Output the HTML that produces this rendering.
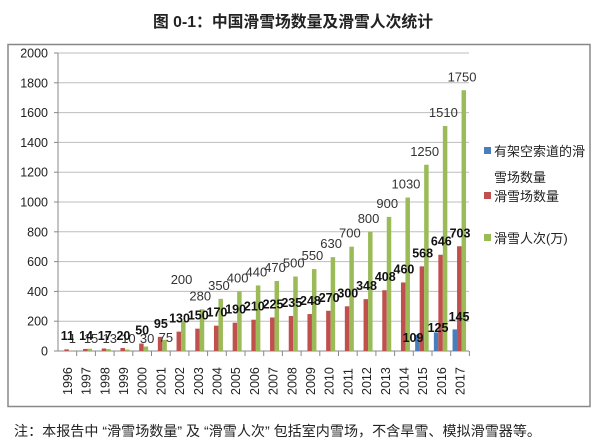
<!DOCTYPE html>
<html><head><meta charset="utf-8"><style>
body{margin:0;background:#fff;}
svg{display:block;font-family:"Liberation Sans","Noto Sans CJK SC",sans-serif;}
</style></head><body>
<svg width="600" height="446" viewBox="0 0 600 446" xmlns="http://www.w3.org/2000/svg">
<text x="153" y="27" font-size="16" font-weight="bold" fill="#222" textLength="280" lengthAdjust="spacingAndGlyphs">图 0-1：中国滑雪场数量及滑雪人次统计</text>
<rect x="8" y="44.5" width="582" height="362" fill="#fff" stroke="#888" stroke-width="1.5"/>
<g id="grid" stroke="#bdbdbd" stroke-width="1"></g>
<g id="bars"></g>
<g id="labels"></g>
<g font-size="13" fill="#222">
<rect x="484" y="147" width="7" height="7" fill="#4a7ebb"/>
<text x="494" y="156">有架空索道的滑</text>
<text x="494" y="182">雪场数量</text>
<rect x="484" y="192" width="7" height="7" fill="#c0504d"/>
<text x="494" y="201">滑雪场数量</text>
<rect x="484" y="234" width="7" height="7" fill="#9bbb59"/>
<text x="494" y="243">滑雪人次(万)</text>
</g>
<text x="14" y="436" font-size="14" fill="#222" textLength="527" lengthAdjust="spacingAndGlyphs">注：本报告中 “滑雪场数量” 及 “滑雪人次” 包括室内雪场，不含旱雪、模拟滑雪器等。</text>
<script>
var ns="http://www.w3.org/2000/svg";
function el(p,t,a,txt){var e=document.createElementNS(ns,t);for(var k in a)e.setAttribute(k,a[k]);if(txt!=null)e.textContent=txt;p.appendChild(e);return e;}
var svg=document.querySelector('svg');
var g=document.getElementById('grid'),b=document.getElementById('bars'),l=document.getElementById('labels');
var X0=58,W=18.7,Y0=351,S=149/1000;
for(var v=0;v<=2000;v+=200){var y=Y0-v*S;
 el(g,'line',{x1:X0,x2:469,y1:y,y2:y,stroke:v==0?'#888':'#bdbdbd'});
 el(g,'line',{x1:X0-4,x2:X0,y1:y,y2:y,stroke:'#888'});
 el(svg,'text',{x:X0-10,y:y+4.5,'text-anchor':'end','font-size':'12.5',fill:'#222'},v);}
el(g,'line',{x1:X0,x2:X0,y1:Y0-2000*S,y2:Y0,stroke:'#888'});
var red=[11,14,17,20,50,95,130,150,170,190,210,225,235,248,270,300,348,408,460,568,646,703];
var green=[1,15,13,10,30,75,200,280,350,400,440,470,500,550,630,700,800,900,1030,1250,1510,1750];
var blue={19:109,20:125,21:145};
for(var i=0;i<22;i++){
 var cx=X0+W*(i+0.5);
 el(g,'line',{x1:X0+W*(i+1),x2:X0+W*(i+1),y1:Y0,y2:Y0+5,stroke:'#888'});
 el(svg,'text',{x:0,y:0,transform:'translate('+(cx+4.5)+',395) rotate(-90)','font-size':'12.5',fill:'#222'},1996+i);
 if(blue[i]){el(b,'rect',{x:cx-7.5,y:Y0-blue[i]*S,width:4.5,height:blue[i]*S,fill:'#4a7ebb'});}
 el(b,'rect',{x:cx-3,y:Y0-red[i]*S,width:4.5,height:red[i]*S,fill:'#c0504d'});
 el(b,'rect',{x:cx+1.5,y:Y0-green[i]*S,width:4.5,height:green[i]*S,fill:'#9bbb59'});
 var gy=Y0-green[i]*S-9, gx=cx+2;
 if(i==6){gy=284;} if(i<5){gy=343;gx=cx+5;} if(i==5){gy=342;gx=cx+5;}
 el(l,'text',{x:gx,y:gy,'text-anchor':'middle','font-size':'13',fill:'#333'},green[i]);
 var ry=Y0-red[i]*S-9; if(i<4) ry=340;
 el(l,'text',{x:cx,y:ry,'text-anchor':'middle','font-size':'12.5','font-weight':'bold',fill:'#111'},red[i]);
}
el(l,'text',{x:413,y:342,'text-anchor':'middle','font-size':'12.5','font-weight':'bold',fill:'#111'},'109');
el(l,'text',{x:438,y:332,'text-anchor':'middle','font-size':'12.5','font-weight':'bold',fill:'#111'},'125');
el(l,'text',{x:459,y:321,'text-anchor':'middle','font-size':'12.5','font-weight':'bold',fill:'#111'},'145');
</script>
</svg>
</body></html>
